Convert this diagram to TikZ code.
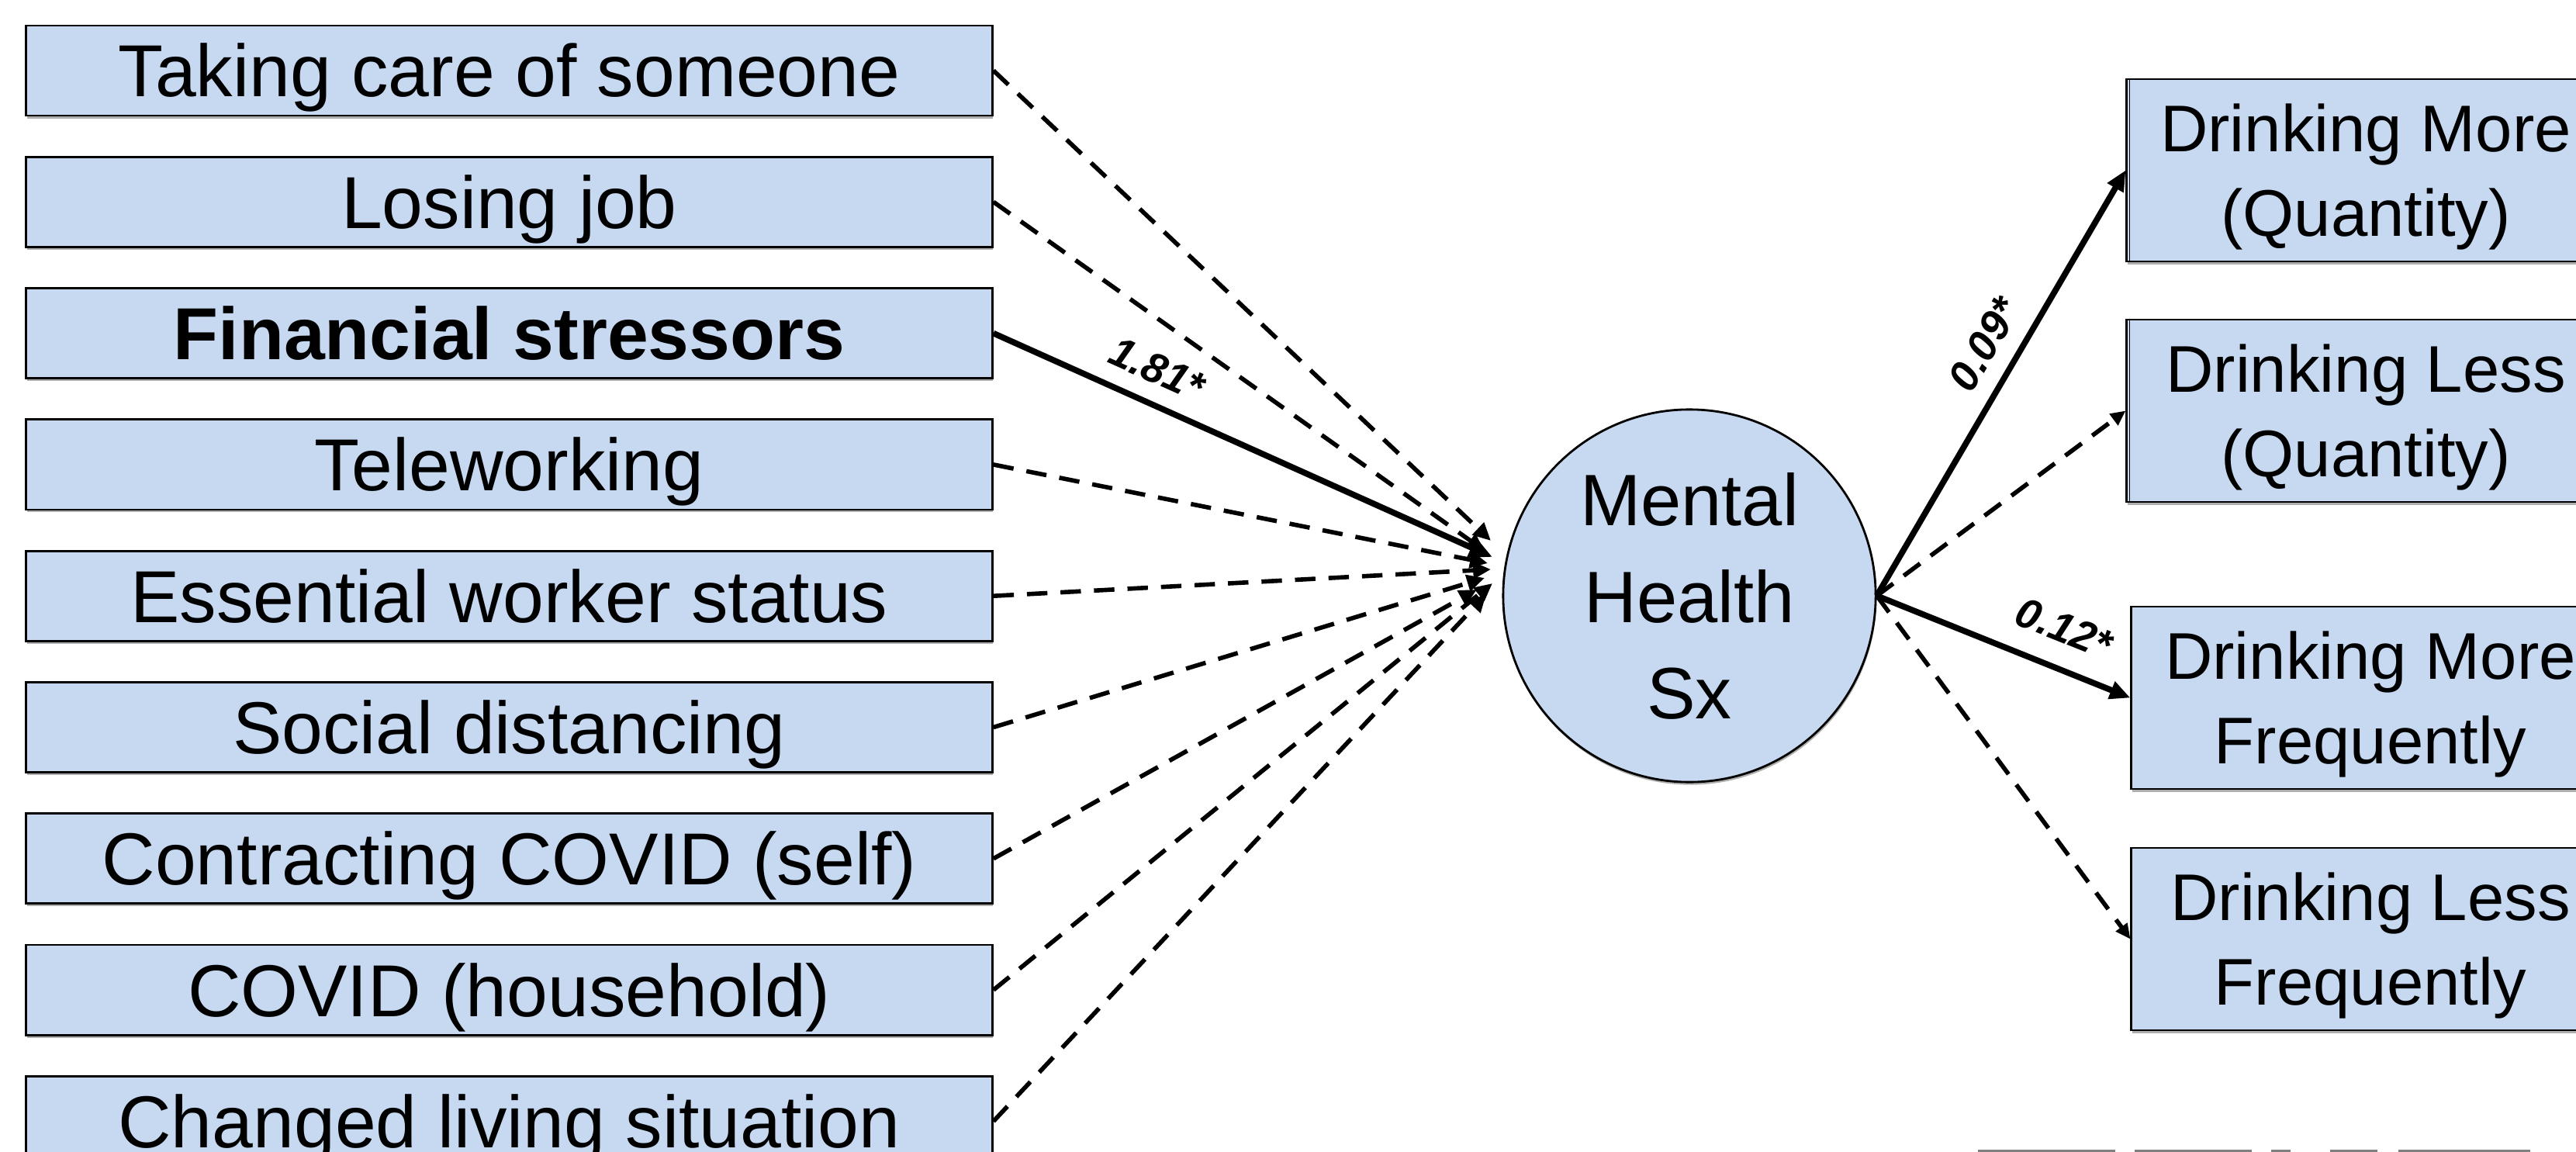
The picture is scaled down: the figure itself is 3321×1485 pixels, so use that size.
\documentclass[tikz,border=0pt]{standalone}
\usepackage{fontspec}
\setmainfont{Liberation Sans}
\usetikzlibrary{arrows.meta,shadows}
\definecolor{boxblue}{HTML}{C6D9F1}

\begin{document}
\begin{tikzpicture}[x=0.01cm, y=-0.01cm,
  boxshadow/.style={drop shadow={shadow xshift=0.3pt, shadow yshift=-1pt, fill=black!70, opacity=0.45}},
  factor/.style={draw=black, line width=0.8pt, fill=boxblue, boxshadow,
    minimum width=12.45cm, minimum height=1.16cm, inner sep=0pt,
    text height=19.3pt, text depth=0pt,
    font=\fontsize{27}{32}\selectfont},
  outcome/.style={draw=black, line width=0.8pt, fill=boxblue, boxshadow,
    minimum width=6.16cm, minimum height=2.35cm, inner sep=0pt, align=center,
    text depth=0pt, font=\fontsize{24.2}{31}\selectfont},
  latent/.style={circle, draw=black, line width=0.8pt, fill=boxblue, boxshadow,
    minimum size=4.8cm, inner sep=0pt, align=center, text depth=0pt,
    font=\fontsize{26.7}{35.3}\selectfont},
  nsarrow/.style={line width=1.6pt, dash pattern=on 7.5pt off 4.8pt,
    -{Triangle[length=6.5pt,width=6pt]}},
  sigarrow/.style={line width=2.2pt, -{Triangle[length=8.5pt,width=7.5pt]}},
  coef/.style={sloped, inner sep=0pt, font=\fontsize{15.5}{18}\selectfont\bfseries\itshape},
  cutbar/.style={draw=black!50, line width=0.85pt}
]
\useasboundingbox (0,0) rectangle (3321,1485);
\clip (0,0) rectangle (3321,1485);

% predictors
\node[factor] (l1) at (656.5,91)    {Taking care of someone};
\node[factor] (l2) at (656.5,260.3) {Losing job};
\node[factor] (l3) at (656.5,429.6) {\bfseries Financial stressors};
\node[factor] (l4) at (656.5,598.9) {Teleworking};
\node[factor] (l5) at (656.5,768.2) {Essential worker status};
\node[factor] (l6) at (656.5,937.5) {Social distancing};
\node[factor] (l7) at (656.5,1106.8) {Contracting COVID (self)};
\node[factor] (l8) at (656.5,1276.1) {COVID (household)};
\node[factor] (l9) at (656.5,1445.4) {Changed living situation};

% mediator
\node[latent] (mh) at (2178,768) {Mental\\Health\\Sx};

% outcomes
\node[outcome] (r1) at (3050,219.5)  {Drinking More\\(Quantity)};
\node[outcome] (r2) at (3050,529.5)  {Drinking Less\\(Quantity)};
\node[outcome] (r3) at (3056,899.5)  {Drinking More\\Frequently};
\node[outcome] (r4) at (3056,1210.5) {Drinking Less\\Frequently};
\draw[line width=0.5pt] ([xshift=0.05cm]r1.north west) -- ([xshift=0.05cm]r1.south west);
\draw[line width=0.5pt] ([xshift=0.05cm]r2.north west) -- ([xshift=0.05cm]r2.south west);

% arrow tips gathered in front of the mediator
\coordinate (t1) at (1922,697);
\coordinate (t2) at (1914,710);
\coordinate (t3) at (1924,718);
\coordinate (t4) at (1918,726);
\coordinate (t5) at (1922,734);
\coordinate (t6) at (1914,745);
\coordinate (t7) at (1904,760);
\coordinate (t8) at (1924,752);
\coordinate (t9) at (1916,766);

% predictor paths
\draw[nsarrow]  (l1.east) -- (t1);
\draw[nsarrow]  (l2.east) -- (t2);
\draw[sigarrow] (l3.east) -- node[coef, pos=0.3, above=6pt] {1.81*} (t3);
\draw[nsarrow]  (l4.east) -- (t4);
\draw[nsarrow]  (l5.east) -- (t5);
\draw[nsarrow]  (l6.east) -- (t6);
\draw[nsarrow]  (l7.east) -- (t7);
\draw[nsarrow]  (l8.east) -- (t8);
\draw[nsarrow]  (l9.east) -- (t9);

% outcome paths
\draw[sigarrow, -{Triangle[length=7.5pt,width=6.5pt]}] (mh.east) -- node[coef, pos=0.55, above=6pt] {0.09*} (r1.west);
\draw[nsarrow, -{Triangle[length=5.5pt,width=5pt]}]  (mh.east) -- (r2.west);
\draw[sigarrow, -{Triangle[length=7.5pt,width=6.5pt]}] (mh.east) -- node[coef, pos=0.68, above=8pt] {0.12*} (r3.west);
\draw[nsarrow, -{Triangle[length=5.5pt,width=5pt]}]  (mh.east) -- (r4.west);

% partly visible rules along the lower edge
\draw[cutbar] (2550,1483) -- (2727,1483);
\draw[cutbar] (2752,1483) -- (2903,1483);
\draw[cutbar] (2928,1483) -- (2953,1483);
\draw[cutbar] (3004,1483) -- (3065,1483);
\draw[cutbar] (3092,1483) -- (3262,1483);
\end{tikzpicture}
\end{document}
